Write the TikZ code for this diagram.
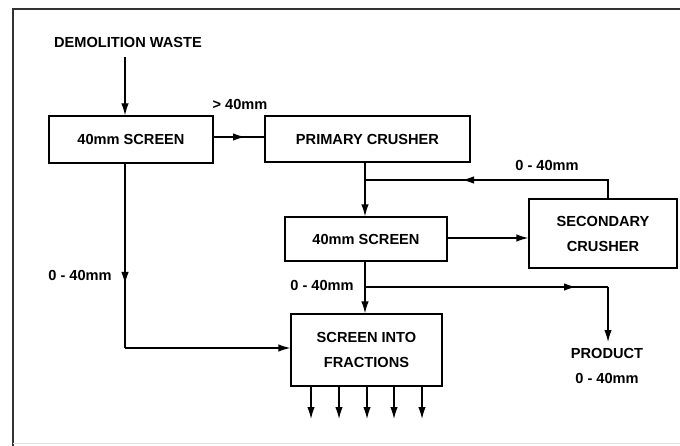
\documentclass[tikz,border=0pt]{standalone}
\usepackage{fontspec}
\setmainfont{Liberation Sans}
\usetikzlibrary{arrows.meta}
\begin{document}
\begin{tikzpicture}[x=1pt,y=-1pt,
  txt/.style={font=\fontsize{14.6}{25}\selectfont\bfseries},
  box/.style={draw,line width=1.3pt,inner sep=0pt,align=center,txt},
  lbl/.style={inner sep=0pt,align=center,txt},
  conn/.style={line width=1.3pt},
  arr/.style={line width=1.3pt,-{Latex[length=12pt,width=7.5pt]}}]
\useasboundingbox (0,0) rectangle (680,446);
% frame
\draw[line width=2pt,black!80] (13,446) -- (13,9) -- (680,9);
\draw[line width=0.8pt,black!12] (13,443) -- (680,443);
% nodes
\node[lbl] (waste) at (128,42) {DEMOLITION WASTE};
\node[box,minimum width=164pt,minimum height=47pt] (scr1) at (131,139.5) {40mm SCREEN};
\node[box,minimum width=205pt,minimum height=46pt] (prim) at (367.5,139) {PRIMARY CRUSHER};
\node[box,minimum width=162pt,minimum height=44pt] (scr2) at (366,239) {40mm SCREEN};
\node[box,minimum width=148pt,minimum height=69pt] (sec) at (603,233.5) {SECONDARY\\CRUSHER};
\node[box,minimum width=151pt,minimum height=72pt] (frac) at (366.5,350) {SCREEN INTO\\FRACTIONS};
\node[lbl] (gt) at (240,104) {> 40mm};
\node[lbl] (l1) at (547,165) {0 - 40mm};
\node[lbl] (l2) at (80,275) {0 - 40mm};
\node[lbl] (l3) at (322,285) {0 - 40mm};
\node[lbl] (prod) at (607,366) {PRODUCT\\0 - 40mm};
% coordinates
\coordinate (wa) at (125,57);
\coordinate (c1) at (125,163);
\coordinate (m1) at (245,137);
\coordinate (cx) at (365,100);
\coordinate (fb1) at (608,180);
\coordinate (fbm) at (462,180);
\coordinate (fb2) at (365,180);
\coordinate (lm) at (125,284);
\coordinate (lc) at (125,348);
\coordinate (br) at (365,287);
\coordinate (bm) at (576,287);
\coordinate (bc) at (608,287);
\coordinate (pe) at (608,342);
% connectors
\draw[arr] (wa) -- (wa |- scr1.north);
\draw[conn] (scr1.east |- m1) -- (prim.west |- m1);
\draw[arr] (scr1.east |- m1) -- (m1);
\draw[arr] (prim.south -| cx) -- (scr2.north -| cx);
\draw[conn] (sec.north -| fb1) -- (fb1) -- (fb2);
\draw[arr] (fb1) -- (fbm);
\draw[arr] (scr2.east |- 0,238) -- (sec.west |- 0,238);
\draw[arr] (scr2.south -| cx) -- (frac.north -| cx);
\draw[conn] (br) -- (bc);
\draw[arr] (br) -- (bm);
\draw[arr] (bc) -- (pe);
\draw[conn] (scr1.south -| c1) -- (lc);
\draw[arr] (scr1.south -| c1) -- (lm);
\draw[arr] (lc) -- (frac.west |- lc);
\foreach \x in {311,339,367,394,422}
  \draw[arr] (frac.south -| \x,0) -- (\x,419);
\end{tikzpicture}
\end{document}
